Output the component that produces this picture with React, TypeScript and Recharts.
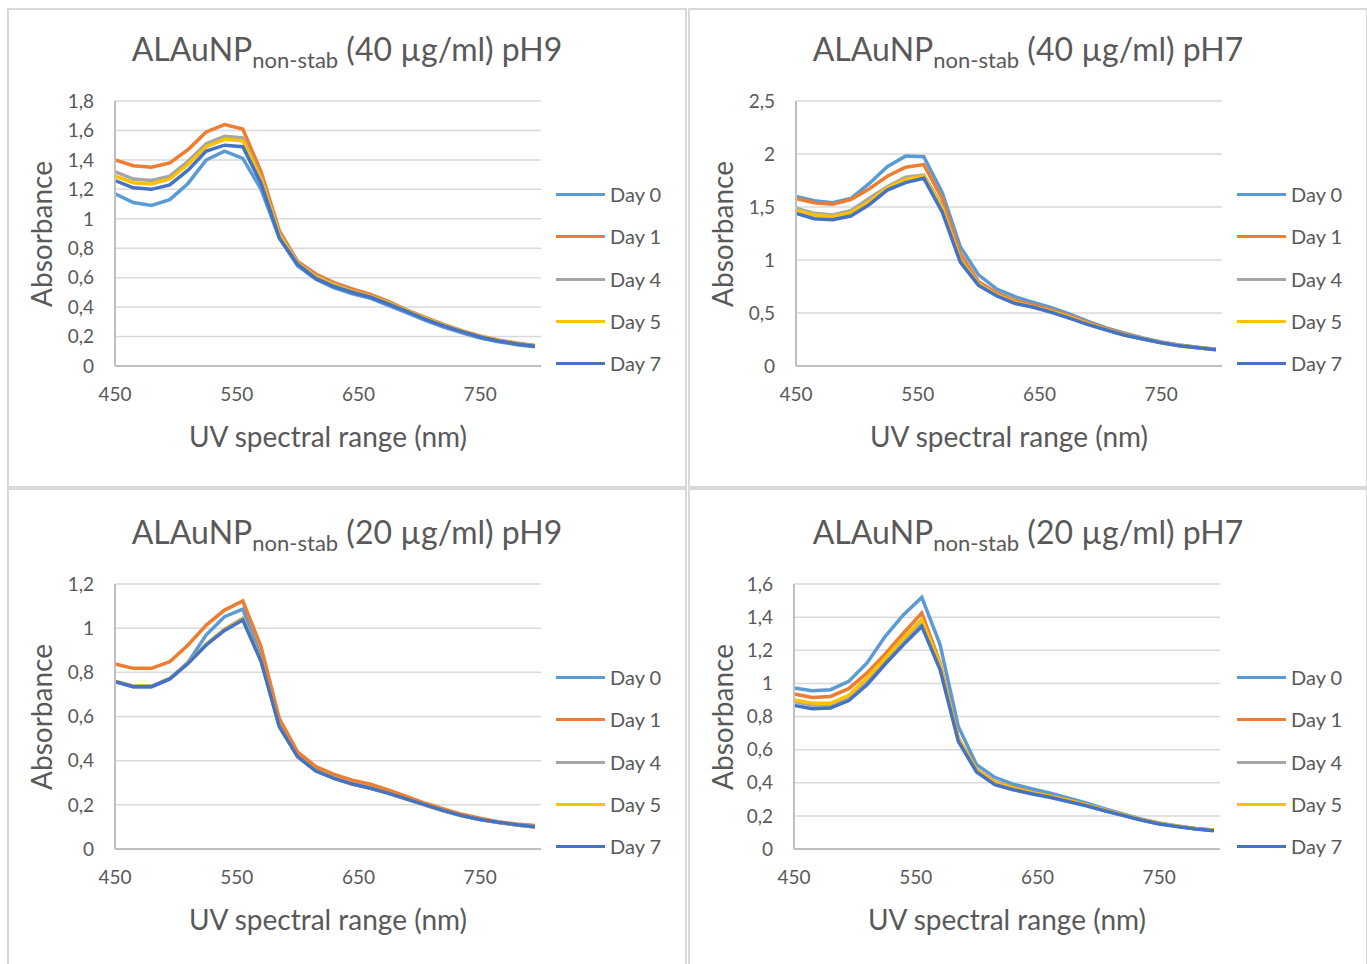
import { LineChart, Line, XAxis, YAxis, CartesianGrid } from "recharts";

// wavelength of each reading (nm)
const wavelengths = [450, 465, 480, 495, 510, 525, 540, 555, 570, 585, 600, 615, 630, 645, 660, 675, 690, 705, 720, 735, 750, 765, 780, 795];

const dayLabels = ["Day 0", "Day 1", "Day 4", "Day 5", "Day 7"];
const dayColors = ["#5B9BD5", "#ED7D31", "#A5A5A5", "#FFC000", "#4472C4"];

const xTicks = [450, 550, 650, 750];

// 40 µg/ml, pH9
const c40pH9Day0 = [1.17, 1.11, 1.09, 1.13, 1.24, 1.4, 1.46, 1.41, 1.2, 0.87, 0.68, 0.59, 0.53, 0.49, 0.46, 0.41, 0.36, 0.31, 0.265, 0.225, 0.19, 0.165, 0.145, 0.13];
const c40pH9Day1 = [1.4, 1.36, 1.35, 1.38, 1.47, 1.59, 1.64, 1.61, 1.32, 0.92, 0.71, 0.625, 0.566, 0.523, 0.487, 0.437, 0.38, 0.33, 0.283, 0.24, 0.204, 0.177, 0.156, 0.14];
const c40pH9Day4 = [1.32, 1.27, 1.26, 1.29, 1.39, 1.51, 1.56, 1.55, 1.28, 0.9, 0.7, 0.61, 0.555, 0.51, 0.475, 0.43, 0.375, 0.325, 0.278, 0.237, 0.2, 0.174, 0.153, 0.137];
const c40pH9Day5 = [1.29, 1.245, 1.236, 1.27, 1.37, 1.49, 1.54, 1.53, 1.27, 0.89, 0.695, 0.605, 0.55, 0.505, 0.472, 0.427, 0.373, 0.323, 0.276, 0.236, 0.2, 0.173, 0.152, 0.136];
const c40pH9Day7 = [1.26, 1.21, 1.2, 1.23, 1.33, 1.46, 1.5, 1.49, 1.24, 0.87, 0.69, 0.595, 0.54, 0.5, 0.467, 0.42, 0.37, 0.317, 0.272, 0.233, 0.197, 0.17, 0.15, 0.134];
const c40pH9Ticks = [0, 0.2, 0.4, 0.6, 0.8, 1, 1.2, 1.4, 1.6, 1.8];

// 40 µg/ml, pH7
const c40pH7Day0 = [1.6, 1.56, 1.54, 1.58, 1.72, 1.88, 1.98, 1.975, 1.64, 1.125, 0.86, 0.726, 0.654, 0.6, 0.55, 0.49, 0.42, 0.36, 0.31, 0.264, 0.226, 0.198, 0.176, 0.158];
const c40pH7Day1 = [1.58, 1.54, 1.525, 1.57, 1.67, 1.79, 1.875, 1.9, 1.58, 1.06, 0.795, 0.69, 0.62, 0.575, 0.53, 0.475, 0.41, 0.352, 0.302, 0.26, 0.223, 0.195, 0.174, 0.156];
const c40pH7Day4 = [1.49, 1.44, 1.425, 1.465, 1.58, 1.69, 1.78, 1.8, 1.51, 1.01, 0.775, 0.672, 0.603, 0.56, 0.515, 0.462, 0.4, 0.345, 0.295, 0.257, 0.221, 0.192, 0.173, 0.155];
const c40pH7Day5 = [1.47, 1.425, 1.41, 1.445, 1.55, 1.68, 1.76, 1.79, 1.49, 1.0, 0.77, 0.668, 0.6, 0.558, 0.512, 0.458, 0.398, 0.343, 0.293, 0.256, 0.22, 0.191, 0.173, 0.155];
const c40pH7Day7 = [1.44, 1.39, 1.38, 1.415, 1.52, 1.66, 1.73, 1.77, 1.455, 0.98, 0.76, 0.66, 0.59, 0.554, 0.506, 0.45, 0.39, 0.34, 0.29, 0.255, 0.22, 0.19, 0.173, 0.154];
const c40pH7Ticks = [0, 0.5, 1, 1.5, 2, 2.5];

// 20 µg/ml, pH9
const c20pH9Day0 = [0.758, 0.735, 0.735, 0.77, 0.845, 0.97, 1.052, 1.086, 0.87, 0.56, 0.42, 0.357, 0.322, 0.296, 0.277, 0.253, 0.226, 0.199, 0.173, 0.15, 0.133, 0.12, 0.109, 0.101];
const c20pH9Day1 = [0.838, 0.818, 0.818, 0.848, 0.924, 1.014, 1.082, 1.123, 0.916, 0.59, 0.44, 0.373, 0.338, 0.312, 0.293, 0.267, 0.237, 0.207, 0.181, 0.157, 0.139, 0.124, 0.113, 0.106];
const c20pH9Day4 = [0.76, 0.738, 0.738, 0.772, 0.842, 0.928, 0.995, 1.045, 0.855, 0.556, 0.418, 0.354, 0.32, 0.294, 0.275, 0.251, 0.225, 0.199, 0.173, 0.15, 0.133, 0.12, 0.109, 0.1];
const c20pH9Day5 = [0.759, 0.737, 0.737, 0.771, 0.841, 0.926, 0.993, 1.042, 0.852, 0.555, 0.418, 0.353, 0.32, 0.294, 0.275, 0.252, 0.226, 0.2, 0.174, 0.151, 0.134, 0.121, 0.11, 0.101];
const c20pH9Day7 = [0.758, 0.735, 0.735, 0.77, 0.84, 0.924, 0.99, 1.037, 0.85, 0.554, 0.418, 0.353, 0.32, 0.294, 0.275, 0.252, 0.226, 0.2, 0.174, 0.151, 0.134, 0.121, 0.11, 0.101];
const c20pH9Ticks = [0, 0.2, 0.4, 0.6, 0.8, 1, 1.2];

// 20 µg/ml, pH7
const c20pH7Day0 = [0.972, 0.956, 0.962, 1.012, 1.123, 1.284, 1.415, 1.519, 1.234, 0.74, 0.509, 0.432, 0.392, 0.364, 0.338, 0.308, 0.278, 0.243, 0.211, 0.181, 0.157, 0.139, 0.124, 0.115];
const c20pH7Day1 = [0.936, 0.915, 0.921, 0.968, 1.063, 1.178, 1.304, 1.425, 1.123, 0.67, 0.48, 0.405, 0.372, 0.345, 0.322, 0.296, 0.268, 0.236, 0.206, 0.178, 0.154, 0.137, 0.122, 0.113];
const c20pH7Day4 = [0.89, 0.87, 0.87, 0.915, 1.02, 1.14, 1.26, 1.37, 1.1, 0.66, 0.475, 0.398, 0.366, 0.34, 0.316, 0.292, 0.265, 0.234, 0.205, 0.177, 0.153, 0.136, 0.122, 0.112];
const c20pH7Day5 = [0.9, 0.88, 0.88, 0.928, 1.033, 1.153, 1.274, 1.385, 1.11, 0.665, 0.478, 0.4, 0.368, 0.342, 0.318, 0.294, 0.267, 0.236, 0.206, 0.178, 0.154, 0.137, 0.122, 0.113];
const c20pH7Day7 = [0.867, 0.847, 0.851, 0.896, 0.992, 1.117, 1.234, 1.344, 1.083, 0.65, 0.465, 0.388, 0.358, 0.334, 0.312, 0.287, 0.261, 0.231, 0.203, 0.175, 0.151, 0.135, 0.121, 0.11];
const c20pH7Ticks = [0, 0.2, 0.4, 0.6, 0.8, 1, 1.2, 1.4, 1.6];

const FONT = "Lato, 'Open Sans', sans-serif";
const TEXT = "#595959";
const keys = ["d0", "d1", "d4", "d5", "d7"];

const BOX_W = 680;
const BOX_H = 480;
const PLOT_W = 426;
const PLOT_H = 265;

function buildRows(series: number[][]) {
  return wavelengths.map((nm, i) => {
    const row: Record<string, number> = { nm };
    keys.forEach((k, j) => (row[k] = series[j][i]));
    return row;
  });
}

interface PanelProps {
  left: number;
  top: number;
  conc: string;
  ph: string;
  series: number[][];
  yTicks: number[];
  plotLeft: number;
  plotTop: number;
}

function Panel({ left, top, conc, ph, series, yTicks, plotLeft, plotTop }: PanelProps) {
  const data = buildRows(series);
  const plotBottom = plotTop + PLOT_H;
  const plotMidX = plotLeft + PLOT_W / 2;
  const legendOffsets = [93, 135, 178, 220, 262];

  return (
    <div
      style={{
        position: "absolute",
        left,
        top,
        width: BOX_W,
        height: BOX_H,
        boxShadow: "inset 0 0 0 2px #d9d9d9",
        fontFamily: FONT,
        color: TEXT,
      }}
    >
      {/* titre avec indice */}
      <div
        style={{
          position: "absolute",
          left: 0,
          top: plotTop - 68,
          width: BOX_W,
          textAlign: "center",
          fontSize: 32,
          lineHeight: "32px",
          whiteSpace: "nowrap",
        }}
      >
        ALAuNP
        <span style={{ fontSize: 22, position: "relative", top: 7 }}>non-stab</span> ({conc} µg/ml) {ph}
      </div>

      <LineChart
        width={BOX_W}
        height={BOX_H}
        data={data}
        margin={{ top: plotTop, right: BOX_W - plotLeft - PLOT_W, left: 0, bottom: 0 }}
        style={{ position: "absolute", left: 0, top: 0 }}
      >
        <CartesianGrid vertical={false} stroke="#d9d9d9" strokeWidth={1.5} />
        <XAxis
          dataKey="nm"
          type="number"
          domain={[450, 800]}
          ticks={xTicks}
          interval={0}
          height={BOX_H - plotBottom}
          tickLine={false}
          tickSize={0}
          tickMargin={22}
          axisLine={{ stroke: "#bfbfbf", strokeWidth: 2 }}
          tick={{ fill: TEXT, fontSize: 19, fontFamily: FONT }}
        />
        <YAxis
          type="number"
          domain={[0, yTicks[yTicks.length - 1]]}
          ticks={yTicks}
          interval={0}
          width={plotLeft}
          tickLine={false}
          tickSize={0}
          tickMargin={21}
          axisLine={{ stroke: "#bfbfbf", strokeWidth: 2 }}
          tick={{ fill: TEXT, fontSize: 19, fontFamily: FONT }}
          tickFormatter={(v: number) => String(v).replace(".", ",")}
        />
        {keys.map((k, j) => (
          <Line
            key={k}
            dataKey={k}
            name={dayLabels[j]}
            type="linear"
            stroke={dayColors[j]}
            strokeWidth={3.5}
            dot={false}
            activeDot={false}
            isAnimationActive={false}
          />
        ))}
      </LineChart>

      {/* titres des axes */}
      <div
        style={{
          position: "absolute",
          left: 34,
          top: plotTop + PLOT_H / 2,
          transform: "translate(-50%, -50%) rotate(-90deg)",
          fontSize: 28,
          lineHeight: "28px",
          whiteSpace: "nowrap",
        }}
      >
        Absorbance
      </div>
      <div
        style={{
          position: "absolute",
          left: plotMidX,
          top: plotBottom + 70,
          transform: "translate(-50%, -50%)",
          fontSize: 28,
          lineHeight: "28px",
          whiteSpace: "nowrap",
        }}
      >
        UV spectral range (nm)
      </div>

      {/* légende */}
      {dayLabels.map((label, j) => (
        <div
          key={label}
          style={{
            position: "absolute",
            left: 549,
            top: plotTop + legendOffsets[j] - 12,
            height: 24,
            display: "flex",
            alignItems: "center",
            fontSize: 20,
            whiteSpace: "nowrap",
          }}
        >
          <div style={{ width: 49, height: 3, background: dayColors[j], marginRight: 5 }} />
          {label}
        </div>
      ))}
    </div>
  );
}

export default function App() {
  return (
    <div
      style={{
        position: "fixed",
        left: 0,
        top: 0,
        width: 1367,
        height: 964,
        overflow: "hidden",
        background: "#fff",
      }}
    >
      <Panel
        left={7}
        top={8}
        conc="40"
        ph="pH9"
        series={[c40pH9Day0, c40pH9Day1, c40pH9Day4, c40pH9Day5, c40pH9Day7]}
        yTicks={c40pH9Ticks}
        plotLeft={108}
        plotTop={93}
      />
      <Panel
        left={688}
        top={8}
        conc="40"
        ph="pH7"
        series={[c40pH7Day0, c40pH7Day1, c40pH7Day4, c40pH7Day5, c40pH7Day7]}
        yTicks={c40pH7Ticks}
        plotLeft={108}
        plotTop={93}
      />
      <Panel
        left={7}
        top={488}
        conc="20"
        ph="pH9"
        series={[c20pH9Day0, c20pH9Day1, c20pH9Day4, c20pH9Day5, c20pH9Day7]}
        yTicks={c20pH9Ticks}
        plotLeft={108}
        plotTop={96}
      />
      <Panel
        left={688}
        top={488}
        conc="20"
        ph="pH7"
        series={[c20pH7Day0, c20pH7Day1, c20pH7Day4, c20pH7Day5, c20pH7Day7]}
        yTicks={c20pH7Ticks}
        plotLeft={106}
        plotTop={96}
      />
    </div>
  );
}
